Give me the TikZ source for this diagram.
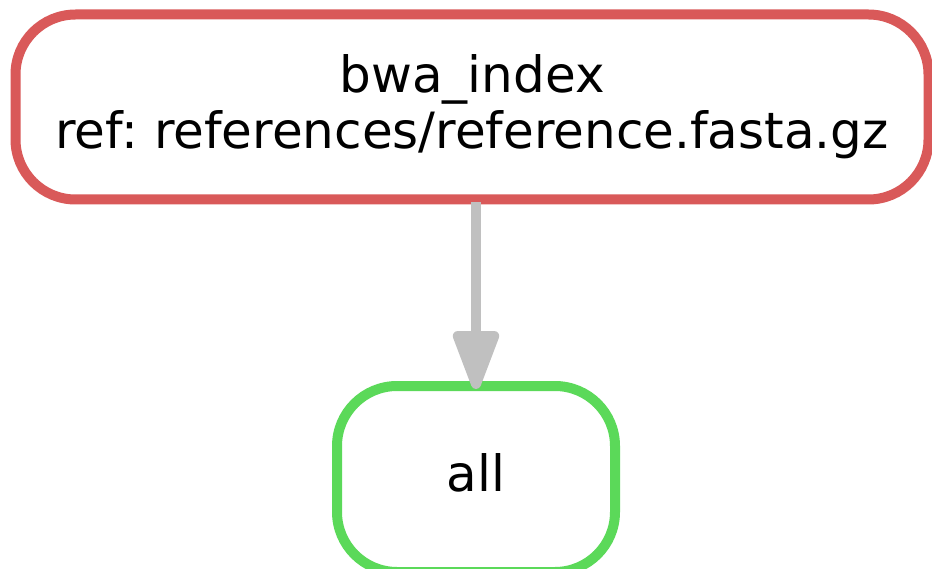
\documentclass[tikz,border=0pt]{standalone}
\usepackage{fontspec}
\setmainfont{DejaVu Sans}
\usetikzlibrary{arrows.meta}

\definecolor{rulered}{RGB}{217,89,89}
\definecolor{rulegreen}{RGB}{91,217,89}
\definecolor{edgegrey}{RGB}{192,192,192}

\tikzset{
  rulebox/.style={draw, line width=10pt, rounded corners=60pt, fill=white,
    align=center, font=\fontsize{50}{56}\selectfont\frenchspacing},
  depedge/.style={draw=edgegrey, line width=10pt,
    -{Triangle[length=68pt,width=48pt,round]}}
}

\begin{document}
\begin{tikzpicture}[x=1pt,y=-1pt]
\useasboundingbox (0,0) rectangle (932,569);

\node[rulebox, draw=rulered, minimum width=913pt, minimum height=185pt] (bwaindex) at (472,107)
  {bwa\_index\\ref: references/reference.fasta.gz};
\node[rulebox, draw=rulegreen, minimum width=278pt, minimum height=186pt, text depth=12pt] (all) at (476,479) {all};

\draw[depedge, shorten <=-2pt, shorten >=-8pt] (bwaindex.south -| all) -- (all.north);
\end{tikzpicture}
\end{document}
